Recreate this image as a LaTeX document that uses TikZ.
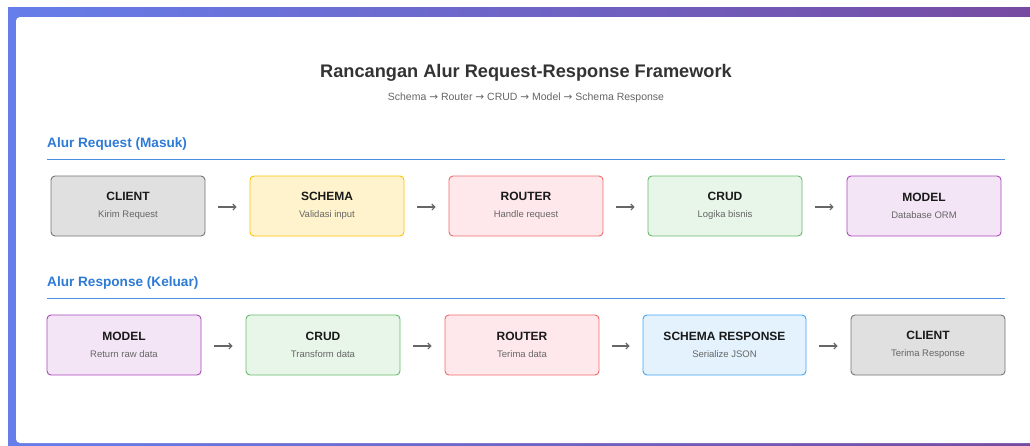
\documentclass[tikz,border=0pt]{standalone}
\usepackage{fontspec}
\setmainfont{Liberation Sans}
\newfontfamily\arrowfont{DejaVu Sans}
\usetikzlibrary{arrows.meta,calc}
\definecolor{gA}{HTML}{667EEA}
\definecolor{gB}{HTML}{764BA2}
\definecolor{ttl}{HTML}{333333}
\definecolor{sub}{HTML}{666666}
\definecolor{secblue}{HTML}{2E7BD6}
\definecolor{lineblue}{HTML}{4A90E2}
\definecolor{clientF}{HTML}{E0E0E0}\definecolor{clientD}{HTML}{757575}
\definecolor{schemaF}{HTML}{FFF3CD}\definecolor{schemaD}{HTML}{FFC107}
\definecolor{routerF}{HTML}{FFE8EB}\definecolor{routerD}{HTML}{EF6A6A}
\definecolor{crudF}{HTML}{E8F5E9}\definecolor{crudD}{HTML}{66BB6A}
\definecolor{modelF}{HTML}{F3E5F5}\definecolor{modelD}{HTML}{AB47BC}
\definecolor{srespF}{HTML}{E3F2FD}\definecolor{srespD}{HTML}{42A5F5}
\definecolor{arrowc}{HTML}{666666}
\tikzset{
  box/.style={draw, line width=0.9pt, rounded corners=4pt, minimum height=60pt, inner sep=0pt, align=center},
  clientbox/.style={box, fill=clientF, draw=clientD},
  schemabox/.style={box, fill=schemaF, draw=schemaD},
  routerbox/.style={box, fill=routerF, draw=routerD},
  crudbox/.style={box, fill=crudF, draw=crudD},
  modelbox/.style={box, fill=modelF, draw=modelD},
  srespbox/.style={box, fill=srespF, draw=srespD},
  arr/.style={draw=arrowc, line width=1.1pt, -{Straight Barb[length=3pt,width=6pt]}, shorten <=13pt, shorten >=13pt},
  sectitle/.style={anchor=west, inner sep=0pt, text=secblue, font=\bfseries\fontsize{13.6}{16}\selectfont},
  secline/.style={draw=lineblue, line width=0.9pt},
}
\newcommand{\bx}[2]{{\fontsize{12}{14}\selectfont\bfseries\color{black!90}#1}\\[5pt]{\fontsize{9.5}{11}\selectfont\color{sub}#2}}
\newcommand{\ra}{{\arrowfont\fontsize{10.5}{12}\selectfont →}}
\begin{document}
\begin{tikzpicture}[x=1pt,y=-1pt]
\useasboundingbox (0,0) rectangle (1030,445);
\fill[white] (0,0) rectangle (1030,445);
\shade[left color=gA, right color=gB] (8,7) rectangle (1030,445);
\fill[white, rounded corners=4pt] (16,17) rectangle (1045,443);
% titles
\node[font=\bfseries\fontsize{18.2}{22}\selectfont, text=ttl, inner sep=0pt] (title) at (526,73) {Rancangan Alur Request-Response Framework};
\node[font=\fontsize{10.5}{12}\selectfont, text=sub, inner sep=0pt] (subtitle) at (526,98) {Schema \ra{} Router \ra{} CRUD \ra{} Model \ra{} Schema Response};
% section 1
\node[sectitle] (sec1) at (47,143.5) {Alur Request (Masuk)};
\coordinate (l1a) at (47,159);
\coordinate (l1b) at (1005,159);
\draw[secline] (l1a) -- (l1b);
\node[clientbox, minimum width=154pt] (c1) at (128,206) {\bx{CLIENT}{Kirim Request}};
\node[schemabox, minimum width=154pt] (s1) at (327,206) {\bx{SCHEMA}{Validasi input}};
\node[routerbox, minimum width=154pt] (r1) at (526,206) {\bx{ROUTER}{Handle request}};
\node[crudbox, minimum width=154pt] (cr1) at (725,206) {\bx{CRUD}{Logika bisnis}};
\node[modelbox, minimum width=154pt] (m1) at (924,206) {\bx{MODEL}{Database ORM}};
\draw[arr] ([yshift=-1pt]c1.east) -- ([yshift=-1pt]s1.west);
\draw[arr] ([yshift=-1pt]s1.east) -- ([yshift=-1pt]r1.west);
\draw[arr] ([yshift=-1pt]r1.east) -- ([yshift=-1pt]cr1.west);
\draw[arr] ([yshift=-1pt]cr1.east) -- ([yshift=-1pt]m1.west);
% section 2
\node[sectitle] (sec2) at (47,282.5) {Alur Response (Keluar)};
\coordinate (l2a) at (47,298);
\coordinate (l2b) at (1005,298);
\draw[secline] (l2a) -- (l2b);
\node[modelbox, minimum width=154pt] (m2) at (124,345) {\bx{MODEL}{Return raw data}};
\node[crudbox, minimum width=154pt] (cr2) at (323,345) {\bx{CRUD}{Transform data}};
\node[routerbox, minimum width=154pt] (r2) at (522,345) {\bx{ROUTER}{Terima data}};
\node[srespbox, minimum width=163pt] (s2) at (724.5,345) {\bx{SCHEMA RESPONSE}{Serialize JSON}};
\node[clientbox, minimum width=154pt] (c2) at (928,345) {\bx{CLIENT}{Terima Response}};
\draw[arr] ([yshift=-1pt]m2.east) -- ([yshift=-1pt]cr2.west);
\draw[arr] ([yshift=-1pt]cr2.east) -- ([yshift=-1pt]r2.west);
\draw[arr] ([yshift=-1pt]r2.east) -- ([yshift=-1pt]s2.west);
\draw[arr] ([yshift=-1pt]s2.east) -- ([yshift=-1pt]c2.west);
\end{tikzpicture}
\end{document}
